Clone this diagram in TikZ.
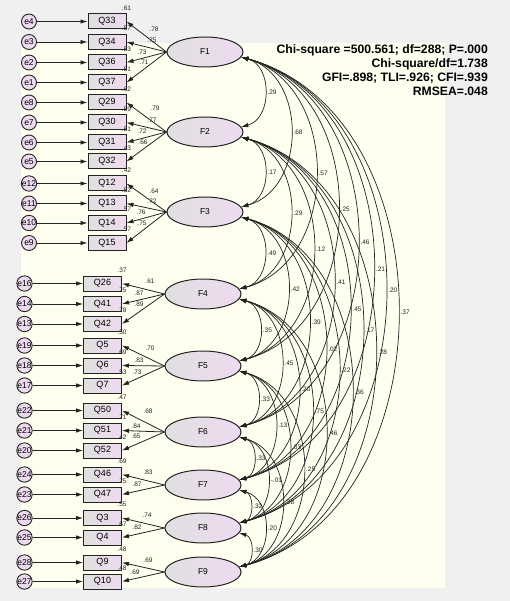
\documentclass[tikz,border=0pt]{standalone}
\usepackage{fontspec}
\setmainfont{Liberation Sans}
\usetikzlibrary{arrows.meta,shapes.geometric}

\definecolor{winGray}{RGB}{240,240,240}
\definecolor{paper}{RGB}{255,255,240}
\definecolor{lav}{RGB}{238,218,240}
\definecolor{boxGray}{RGB}{224,224,224}
\definecolor{ink}{RGB}{35,35,35}

\tikzset{
  errc/.style={circle,draw=ink,line width=.9pt,fill=lav,minimum size=15pt,inner sep=0pt,font=\fontsize{8.5}{9}\selectfont},
  obsbox/.style={rectangle,draw=ink,line width=1pt,left color=boxGray,right color=lav,minimum width=38pt,minimum height=15pt,inner sep=0pt,font=\fontsize{9}{10}\selectfont},
  latent/.style={ellipse,draw=ink,line width=1pt,left color=boxGray,right color=lav,minimum width=76pt,minimum height=30pt,inner sep=0pt,font=\fontsize{8.5}{9}\selectfont},
  est/.style={inner sep=0pt,text=ink,font=\fontsize{6.5}{7}\selectfont},
  covlbl/.style={est,anchor=west,pos=.5,xshift=2.5pt},
  regline/.style={->,draw=ink,line width=.8pt},
  cov/.style={<->,draw=ink,line width=.7pt}
}
\def\facY{{52,132,212,294,366,432,485,528,572}}

\begin{document}
\begin{tikzpicture}[x=1pt,y=-1pt,>={Latex[length=7pt,width=4.5pt]}]
  \fill[winGray] (0,0) rectangle (510,601);
  \fill[paper] (21,43) rectangle (445,588);
  \useasboundingbox (0,0) rectangle (510,601);

  % factors
  \foreach \n/\y in {1/52,2/132,3/212,4/294,5/366,6/432,7/485,8/528,9/572}{
    \pgfmathsetmacro\fx{ifthenelse(\n<4,205,203)}
    \node[latent] (F\n) at (\fx,\y) {F\n};
  }

  % indicators: box/error/y/factor/loading/label x/label y/R2
  \foreach \q/\e/\y/\f/\ld/\lx/\ly/\r in {
      Q33/e4/21.5/1/.78/154/29/.61, Q34/e3/42/1/.75/152/40/.57,
      Q36/e2/62.5/1/.73/142/52/.53, Q37/e1/82.5/1/.71/144/62/.51,
      Q29/e8/102.5/2/.79/155/108/.62, Q30/e7/122.5/2/.77/152/120/.59,
      Q31/e6/142.5/2/.72/142/131/.51, Q32/e5/161.5/2/.66/143/142/.43,
      Q12/e12/183.5/3/.64/154/191/.42, Q13/e11/203.5/3/.72/152/201/.52,
      Q14/e10/223/3/.76/141/212/.57, Q15/e9/243/3/.75/142/223/.57,
      Q26/e16/283.5/4/.61/150/281/.37, Q41/e14/304/4/.87/139/293/.75,
      Q42/e13/324/4/.89/139/304/.78,
      Q5/e19/345.5/5/.70/150/348/.50, Q6/e18/365.5/5/.83/139/360/.69,
      Q7/e17/385.5/5/.73/137/372/.53,
      Q50/e22/410.5/6/.68/148/411/.47, Q51/e21/430.5/6/.84/136/426/.71,
      Q52/e20/450.5/6/.65/136/436/.42,
      Q46/e24/474.5/7/.83/148/472/.69, Q47/e23/494.5/7/.87/137/484/.75,
      Q3/e26/518/8/.74/147/515/.55, Q4/e25/537.5/8/.82/137/527/.67,
      Q9/e28/562.5/9/.69/148/560/.48, Q10/e27/581.5/9/.69/135/572/.48}{
    \pgfmathsetmacro\bx{ifthenelse(\f<4,107,102.5)}
    \pgfmathsetmacro\ex{ifthenelse(\f<4,29,24.5)}
    \node[obsbox] (\q) at (\bx,\y) {\q};
    \node[errc] (\e) at (\ex,\y) {\e};
    \draw[regline] (\e) -- (\q);
    \draw[regline] (F\f.west) -- (\q.east);
    \node[est] (l\q) at (\lx,\ly) {\ld};
    \node[est] (r\q) at (\bx+19.5,\y-13.5) {\r};
  }

  % factor covariances
  \foreach \i/\j/\v in {1/2/.29,1/3/.68,1/4/.57,1/5/.25,1/6/.46,1/7/.21,1/8/.20,1/9/.37,
      2/3/.17,2/4/.29,2/5/.12,2/6/.41,2/7/.45,2/8/.17,2/9/.28,
      3/4/.49,3/5/.42,3/6/.39,3/7/.02,3/8/.22,3/9/.36,
      4/5/.35,4/6/.45,4/7/.20,4/8/.75,4/9/.46,
      5/6/.33,5/7/.13,5/8/.03,5/9/.25,
      6/7/.33,6/8/-.01,6/9/.28,
      7/8/.32,7/9/.20,
      8/9/.30}{
    \pgfmathsetmacro\loose{1.2-0.00022*(\facY[\j-1]-\facY[\i-1])}
    \draw[cov] (F\i.-8) to[bend left=75,looseness=\loose] node[covlbl] (c\i\j) {\v} (F\j.8);
  }

  \node[anchor=north east,align=right,inner sep=0pt,text=black,
        font=\fontsize{12.2}{14}\bfseries\selectfont] (fit) at (488,44.5)
    {Chi-square =500.561; df=288; P=.000\\Chi-square/df=1.738\\GFI=.898; TLI=.926; CFI=.939\\RMSEA=.048};
\end{tikzpicture}
\end{document}
